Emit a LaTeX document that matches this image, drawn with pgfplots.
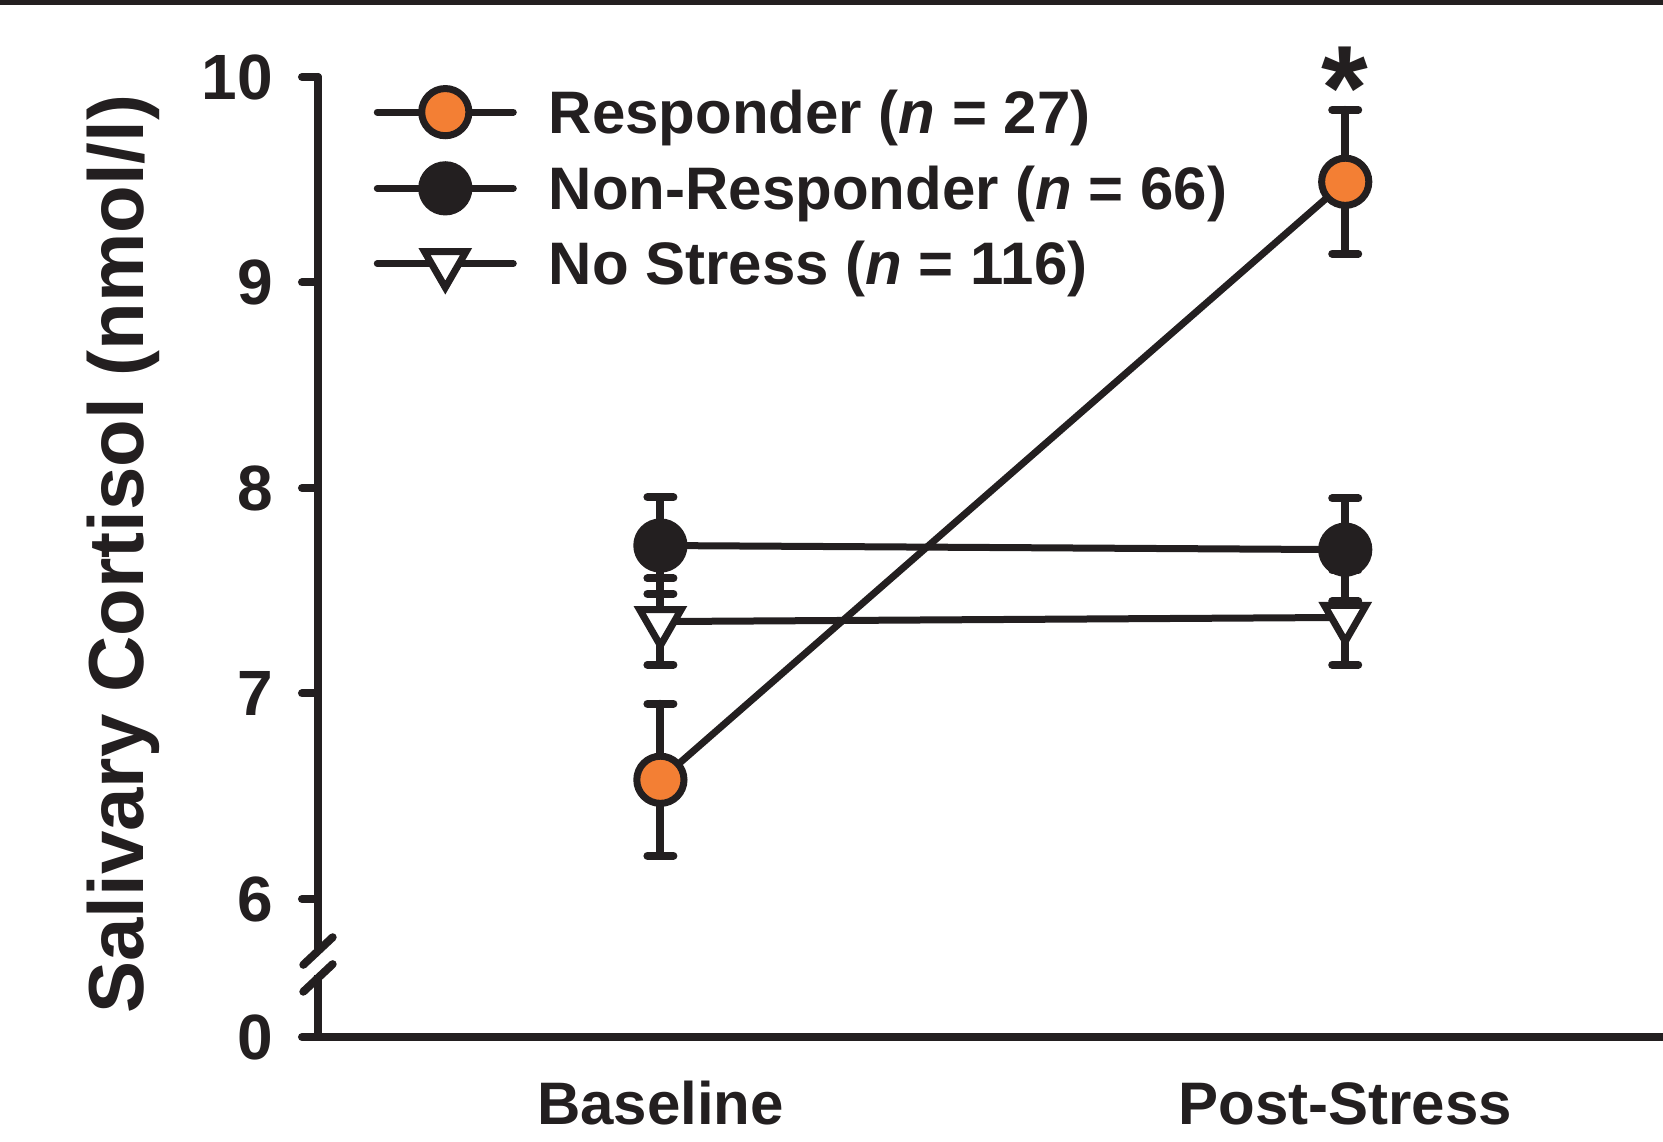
\documentclass[border=0pt]{standalone}
\usepackage{fontspec}
\setmainfont{Liberation Sans}
\usepackage{pgfplots}
\pgfplotsset{compat=1.18}
\definecolor{resp}{RGB}{243,127,52}
\definecolor{ink}{RGB}{35,31,32}
\begin{document}
\begin{tikzpicture}
\begin{axis}[
  at={(0pt,0pt)}, anchor=south west,
  scale only axis, width=336.25pt, height=240pt,
  clip=false,
  xmin=-0.5, xmax=1.464, ymin=5.3285, ymax=10,
  axis lines*=left,
  axis line style={line width=2pt, ink, line cap=round},
  xtick={0,1}, xticklabels={Baseline,Post-Stress},
  major x tick style={draw=none},
  ytick={5.3285,6,7,8,9,10}, yticklabels={0,6,7,8,9,10},
  tick align=outside, major tick length=4pt,
  major y tick style={line width=2pt, ink, line cap=round},
  /pgf/number format/assume math mode=true,
  yticklabel style={font=\fontsize{16}{16}\selectfont\bfseries, text=ink, anchor=east, inner sep=0pt, xshift=-7.1pt},
  xticklabel style={font=\fontsize{15}{15}\selectfont\bfseries, text=ink, anchor=base, inner sep=0pt, yshift=-18pt},
  ylabel={Salivary Cortisol (nmol/l)},
  ylabel style={font=\fontsize{19.5}{19.5}\selectfont\bfseries, text=ink, at={(axis description cs:-0.1294,0.503)}, anchor=base, rotate=0},
  legend cell align=left,
  legend style={at={(axis description cs:0.0409,0.9888)}, anchor=north west, draw=none, fill=none, inner sep=0pt,
    row sep=3.8pt, column sep=8pt, font=\fontsize{15}{15}\selectfont\bfseries, text=ink,
    nodes={inner sep=0pt, text height=11pt, text depth=4pt}},
  legend image code/.code={\draw[mark repeat=2, mark phase=2, #1] plot coordinates {(0pt,1.85pt) (17pt,1.85pt) (34pt,1.85pt)};},
]
\addplot[ink, line width=1.75pt, line cap=round, mark=*, mark size=5.9pt,
  mark options={fill=resp, draw=ink, line width=1.75pt},
  error bars/.cd, y dir=both, y explicit,
  error bar style={line width=2pt, ink},
  error mark options={line width=2pt, ink, mark size=3.25pt, line cap=round, rotate=90}]
  coordinates {(0,6.58) +- (0,0.37) (1,9.49) +- (0,0.35)};
\addlegendentry{Responder (\textit{n} = 27)}
\addplot[ink, line width=1.75pt, line cap=round, mark=*, mark size=5.9pt,
  mark options={fill=ink, draw=ink, line width=1.75pt},
  error bars/.cd, y dir=both, y explicit,
  error bar style={line width=2pt, ink},
  error mark options={line width=2pt, ink, mark size=3.25pt, line cap=round, rotate=90}]
  coordinates {(0,7.72) +- (0,0.235) (1,7.70) +- (0,0.25)};
\addlegendentry{Non-Responder (\textit{n} = 66)}
\addplot[ink, line width=1.75pt, line cap=round, mark=triangle*, mark size=6pt,
  mark options={fill=white, draw=ink, line width=1.75pt, rotate=180},
  error bars/.cd, y dir=both, y explicit,
  error bar style={line width=2pt, ink},
  error mark options={line width=2pt, ink, mark size=3.25pt, line cap=round, rotate=90}]
  coordinates {(0,7.35) +- (0,0.21) (1,7.37) +- (0,0.23)};
\addlegendentry{No Stress (\textit{n} = 116)}
% asterisk
\node[font=\fontsize{30}{30}\selectfont\bfseries, text=ink, anchor=base, inner sep=0pt] at (axis cs:1,9.745) {*};
% axis break
\draw[white, line width=3pt] (axis cs:-0.5,5.735) -- (axis cs:-0.5,5.628);
\draw[ink, line width=2pt, line cap=round] ([shift={(-3.67pt,-3.46pt)}]axis cs:-0.5,5.747) -- ++(7.35pt,6.9pt);
\draw[ink, line width=2pt, line cap=round] ([shift={(-3.67pt,-3.46pt)}]axis cs:-0.5,5.616) -- ++(7.35pt,6.9pt);
\end{axis}
\draw[ink, line width=1.2pt] (-79.5pt,258.65pt) -- (336.25pt,258.65pt);
\pgfresetboundingbox
\path (-79.5pt,-26.25pt) rectangle (336.25pt,259.25pt);
\end{tikzpicture}
\end{document}
